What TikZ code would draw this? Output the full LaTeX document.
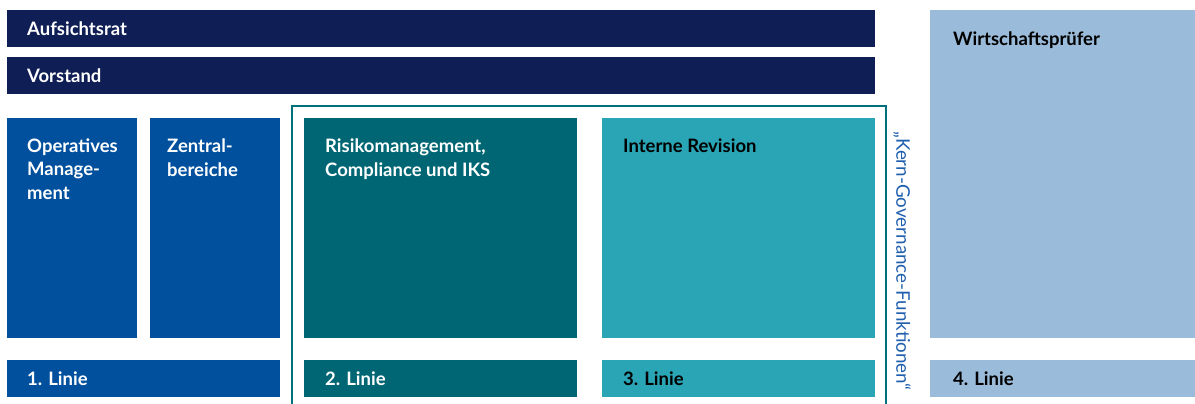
\documentclass[tikz,border=0pt]{standalone}
\usepackage{fontspec}
\setmainfont{Lato}
\definecolor{navy}{HTML}{0F1F55}
\definecolor{blueA}{HTML}{00509E}
\definecolor{tealD}{HTML}{006673}
\definecolor{tealL}{HTML}{2AA5B5}
\definecolor{blueL}{HTML}{9ABBD9}
\definecolor{frameC}{HTML}{00707A}
\definecolor{vtext}{HTML}{1F5FAE}
\tikzset{
  lbl/.style={anchor=base west, inner sep=0pt, font=\fontsize{18.5}{23.5}\selectfont\bfseries, align=left},
}
\begin{document}
\begin{tikzpicture}[x=1pt,y=-1pt]
\useasboundingbox (0,0) rectangle (1195,404);
% bars
\fill[navy] (7,10) rectangle (875,47);
\node[lbl, text=white] (auf) at (27,36) {Aufsichtsrat};
\fill[navy] (7,57) rectangle (875,94);
\node[lbl, text=white] (vor) at (27,82.5) {Vorstand};
% frame
\draw[frameC, line width=2pt] (292,405) -- (292,106) -- (886,106) -- (886,405);
% boxes
\fill[blueA] (7,118) rectangle (137,338);
\node[lbl, text=white] (op) at (27,199) {Operatives\\Manage-\\ment};
\fill[blueA] (150,118) rectangle (280,338);
\node[lbl, text=white] (ze) at (167,176) {Zentral-\\bereiche};
\fill[tealD] (304,118) rectangle (577,338);
\node[lbl, text=white] (ri) at (325,176) {Risikomanagement,\\Compliance und IKS};
\fill[tealL] (602,118) rectangle (875,338);
\node[lbl, text=black] (ir) at (623,152) {Interne Revision};
\fill[blueL] (930,10) rectangle (1195,338);
\node[lbl, text=black] (wp) at (953,46) {Wirtschaftsprüfer};
% lines
\fill[blueA] (7,360) rectangle (280,397);
\node[lbl, text=white] (l1) at (27,385) {1. Linie};
\fill[tealD] (304,360) rectangle (577,397);
\node[lbl, text=white] (l2) at (325,385) {2. Linie};
\fill[tealL] (602,360) rectangle (875,397);
\node[lbl, text=black] (l3) at (623,385) {3. Linie};
\fill[blueL] (930,360) rectangle (1195,397);
\node[lbl, text=black] (l4) at (953,385) {4. Linie};
% vertical label
\node[rotate=-90, text=vtext, inner sep=0pt, font=\fontsize{18.8}{22}\selectfont] (kg) at (902,261) {„Kern-Governance-Funktionen“};
\end{tikzpicture}
\end{document}
